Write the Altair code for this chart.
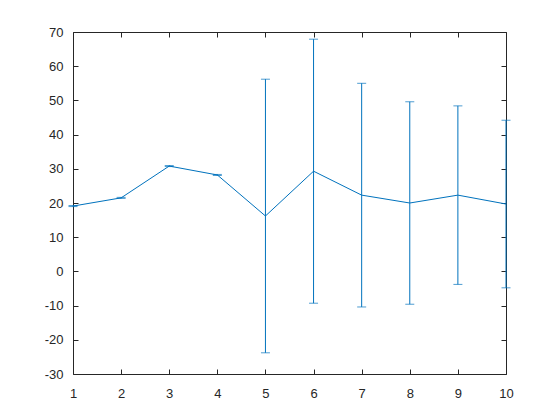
import altair as alt
import pandas as pd

xs = [1, 2, 3, 4, 5, 6, 7, 8, 9, 10]
ys = [19.1, 21.5, 30.8, 28.2, 16.2, 29.3, 22.3, 20.0, 22.3, 19.7]
errs = [0.15, 0.15, 0.15, 0.15, 40.0, 38.6, 32.7, 29.6, 26.1, 24.5]

df = pd.DataFrame({"x": xs, "y": ys, "err": errs})
df["lo"] = df["y"] - df["err"]
df["hi"] = df["y"] + df["err"]

BLUE = "#0072BD"
AX = "#262626"
FONT = "Liberation Sans"

xscale = alt.Scale(domain=[1, 10], nice=False, zero=False)
yscale = alt.Scale(domain=[-30, 70], nice=False, zero=False)

common_axis = dict(domain=False, grid=False, tickColor=AX, labelColor=AX,
                   tickSize=5, offset=-5, labelFont=FONT, labelFontSize=13,
                   title=None, labelFlush=False, labelOverlap=False,
                   labelExpr="'' + datum.value")

base = alt.Chart(df)

line = base.mark_line(color=BLUE, strokeWidth=1, clip=False).encode(
    x=alt.X("x:Q", scale=xscale,
            axis=alt.Axis(values=xs, labelPadding=13, **common_axis)),
    y=alt.Y("y:Q", scale=yscale,
            axis=alt.Axis(values=list(range(-30, 71, 10)), labelPadding=10,
                          **common_axis)),
)

bars = base.mark_rule(color=BLUE, strokeWidth=1, clip=False).encode(
    x=alt.X("x:Q", scale=xscale, axis=None),
    y=alt.Y("lo:Q", scale=yscale, axis=None),
    y2="hi:Q",
)

cap_lo = base.mark_tick(color=BLUE, orient="horizontal", size=9, thickness=1,
                        clip=False).encode(
    x=alt.X("x:Q", scale=xscale, axis=None),
    y=alt.Y("lo:Q", scale=yscale, axis=None),
)
cap_hi = base.mark_tick(color=BLUE, orient="horizontal", size=9, thickness=1,
                        clip=False).encode(
    x=alt.X("x:Q", scale=xscale, axis=None),
    y=alt.Y("hi:Q", scale=yscale, axis=None),
)

frame_axes = base.mark_point(opacity=0).encode(
    x=alt.X("x:Q", scale=xscale,
            axis=alt.Axis(orient="top", values=xs, labels=False, **common_axis)),
    y=alt.Y("y:Q", scale=yscale,
            axis=alt.Axis(orient="right", values=list(range(-30, 71, 10)),
                          labels=False, **common_axis)),
)

chart = alt.layer(line, bars, cap_lo, cap_hi, frame_axes).resolve_axis(
    x="independent", y="independent"
).properties(
    width=433, height=342,
    autosize=alt.AutoSizeParams(type="none"),
    padding={"left": 65, "top": 24, "right": 40, "bottom": 40},
    background="white",
).configure_view(stroke=AX, strokeWidth=1)

chart.save("out.html", embed_options={"renderer": "svg", "actions": False})
